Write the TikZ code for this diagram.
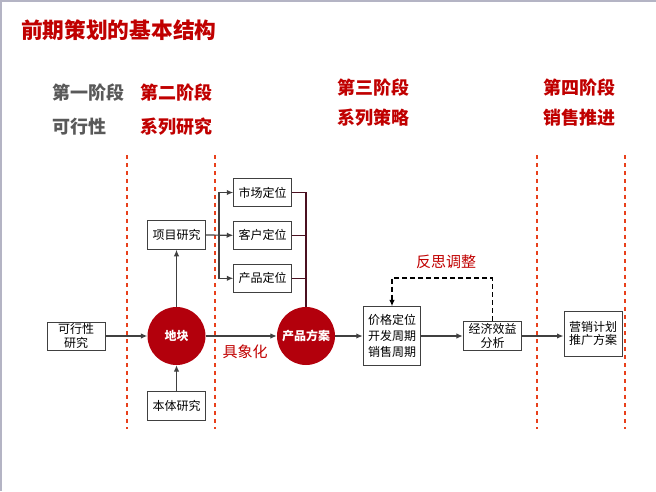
\documentclass[tikz,border=0pt]{standalone}
\usepackage{fontspec}
\setmainfont{Noto Sans CJK SC}
\usetikzlibrary{arrows.meta}
\definecolor{titlered}{HTML}{C00000}
\definecolor{stagegray}{HTML}{595959}
\definecolor{circred}{HTML}{B3000C}
\definecolor{dashred}{HTML}{E8401C}
\definecolor{linegray}{HTML}{404040}
\definecolor{maroon}{HTML}{4A1020}
\definecolor{framegray}{HTML}{B4B4C4}
\tikzset{
  box/.style={draw=linegray, line width=1pt, fill=white, inner sep=0pt, align=center, font=\fontsize{12}{14}\selectfont},
  disc/.style={circle, fill=circred, inner sep=0pt, minimum size=58pt, text=white, font=\fontsize{12}{14}\selectfont\bfseries},
  arr/.style={draw=linegray, line width=1.2pt, -{Latex[length=6.5pt,width=5.5pt]}},
  plain/.style={draw=maroon, line width=1.2pt},
  fbarr/.style={draw=black, line width=1.7pt, dash pattern=on 5pt off 3pt, -{Latex[length=6.5pt,width=5.5pt]}},
  stageline/.style={draw=dashred, line width=1.1pt, dash pattern=on 4pt off 4pt},
  stagelbl/.style={anchor=west, inner sep=0pt, font=\fontsize{18}{20}\selectfont\bfseries},
  redlbl/.style={text=titlered, inner sep=0pt, font=\fontsize{15}{17}\selectfont}
}
\begin{document}
\begin{tikzpicture}[x=1pt,y=-1pt]
\useasboundingbox (0,0) rectangle (656,491);
% frame
\draw[framegray, line width=1.5pt] (0.75,491) -- (0.75,0.75) -- (656,0.75);
% title
\node[anchor=west, inner sep=0pt, text=titlered, font=\fontsize{21.7}{24}\selectfont\bfseries] (title) at (21,30) {前期策划的基本结构};
% stage labels
\node[stagelbl, text=stagegray] (s1a) at (52,93) {第一阶段};
\node[stagelbl, text=stagegray] (s1b) at (52,127) {可行性};
\node[stagelbl, text=titlered] (s2a) at (140,93) {第二阶段};
\node[stagelbl, text=titlered] (s2b) at (140,127) {系列研究};
\node[stagelbl, text=titlered] (s3a) at (337,88) {第三阶段};
\node[stagelbl, text=titlered] (s3b) at (337,118) {系列策略};
\node[stagelbl, text=titlered] (s4a) at (543,88) {第四阶段};
\node[stagelbl, text=titlered] (s4b) at (543,118) {销售推进};
% stage separators
\coordinate (d1t) at (127,155); \coordinate (d1b) at (127,429);
\coordinate (d2t) at (215,155); \coordinate (d2b) at (215,429);
\coordinate (d3t) at (537,155); \coordinate (d3b) at (537,429);
\coordinate (d4t) at (625,155); \coordinate (d4b) at (625,429);
\draw[stageline] (d1t) -- (d1b);
\draw[stageline] (d2t) -- (d2b);
\draw[stageline] (d3t) -- (d3b);
\draw[stageline] (d4t) -- (d4b);
% nodes
\node[box, minimum width=58pt, minimum height=28pt] (kx) at (76,336) {可行性\\研究};
\node[disc] (dk) at (176.5,336) {地块};
\node[box, minimum width=58pt, minimum height=28.5pt] (xm) at (176.5,235) {项目研究};
\node[box, minimum width=58pt, minimum height=28.5pt] (bt) at (176.5,406) {本体研究};
\node[box, minimum width=57.5pt, minimum height=28.5pt] (sc) at (262.5,192.5) {市场定位};
\node[box, minimum width=57.5pt, minimum height=28.5pt] (kh) at (262.5,235.3) {客户定位};
\node[box, minimum width=57.5pt, minimum height=28.5pt] (cp) at (262.5,278.3) {产品定位};
\node[disc] (fa) at (306,336) {产品方案};
\node[box, minimum width=57.5pt, minimum height=58.3pt, font=\fontsize{12}{16.3}\selectfont] (jg) at (392,336) {价格定位\\开发周期\\销售周期};
\node[box, minimum width=58.4pt, minimum height=29.3pt] (jj) at (492.5,335.7) {经济效益\\分析};
\node[box, minimum width=58pt, minimum height=45.3pt, font=\fontsize{12}{13.5}\selectfont] (yx) at (593,333.7) {营销计划\\推广方案};
% labels
\node[redlbl] (jx) at (245,352) {具象化};
\node[redlbl] (fs) at (446,262) {反思调整};
% connectors
\draw[arr] (kx.east) -- (dk.west);
\draw[arr] (dk.north) -- (xm.south);
\draw[arr] (bt.north) -- (dk.south);
\draw[arr] (dk.east) -- (fa.west);
\coordinate (bl) at (219,235.3);
\draw[arr] (xm.east) -- (kh.west);
\draw[arr] (bl) |- (sc.west);
\draw[arr] (bl) |- (cp.west);
\draw[plain] (sc.east) -| (fa.north);
\draw[plain] (kh.east) -- (kh.east -| fa.north);
\draw[plain] (cp.east) -- (cp.east -| fa.north);
\draw[arr] (fa.east) -- (jg.west);
\draw[arr] (jg.east) -- (jj.west |- jg.east);
\draw[arr] (jj.east |- jg.east) -- (yx.west |- jg.east);
\draw[fbarr] (jj.north) -- ++(0,-42.7) -| (jg.north);
\end{tikzpicture}
\end{document}
